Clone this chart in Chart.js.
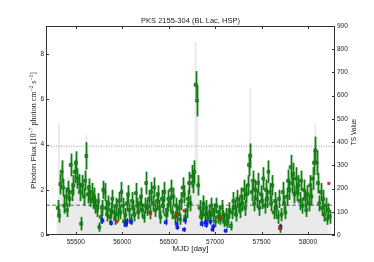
<!DOCTYPE html>
<html>
<head>
<meta charset="utf-8">
<script src="https://cdn.jsdelivr.net/npm/chart.js@4.4.1/dist/chart.umd.min.js"></script>
<style>
  html, body { margin: 0; padding: 0; background: #fff; }
  #wrap { width: 374px; height: 262px; }
</style>
</head>
<body>
<div id="wrap"><canvas id="lc" width="374" height="262"></canvas></div>
<script>
// 14-day bins of the LAT light curve
const binStart = 55306;
const binWidth = 14;

const flux = [
  1.2, 0.85, 2.25, 2.8, 2.1, 1.3, 1.7,
  1.1, 2.0, 1.6, 3.1, 1.9, 2.2, 2.8,
  3.2, 2.5, 2.3, 1.9, 0.5, 2.2, 1.7,
  2.4, 3.5, 1.8, 2.1, 1.6, 1.9, 1.5,
  1.7, 1.3, 1.1, 1.5, 0.35, 0.8, 1.2,
  2.0, 1.9, 1.2, 0.9, 1.4, 0.8, 1.1,
  1.6, 1.0, 0.7, 1.3, 0.9, 1.5, 1.0,
  1.9, 1.3, 0.6, 0.9, 1.4, 1.8, 1.1,
  0.7, 1.5, 1.2, 0.9, 1.85, 1.3, 1.0,
  1.4, 1.7, 1.1, 0.8, 1.3, 2.3, 1.2,
  1.6, 1.0, 1.9, 1.4, 2.1, 1.1, 1.5,
  1.8, 1.2, 0.8, 1.6, 1.3, 1.9, 0.9,
  1.1, 1.6, 1.4, 2.0, 1.0, 1.7, 0.8,
  1.3, 0.9, 1.2, 0.7, 1.5, 2.1, 1.8,
  0.8, 1.1, 1.6, 2.3, 1.4, 2.6, 2.3,
  2.8, 6.65, 5.95, 2.2, 1.2, 0.8, 1.0,
  1.4, 0.9, 1.2, 0.7, 1.0, 0.8, 1.3,
  0.9, 1.1, 0.6, 1.3, 0.8, 1.0, 0.7,
  1.2, 0.8, 0.6, 0.9, 0.5, 0.8, 1.1,
  0.4, 1.0, 1.5, 1.2, 0.9, 1.6, 1.3,
  1.1, 1.7, 1.4, 2.0, 1.2, 1.8, 2.2,
  3.1, 3.5, 1.9, 2.4, 1.4, 2.0, 1.6,
  2.3, 1.2, 1.8, 1.5, 2.5, 1.3, 2.0,
  1.6, 2.8, 1.9, 1.4, 2.2, 1.0, 1.5,
  1.2, 0.8, 1.6, 0.3, 0.9, 1.9, 1.4,
  1.0, 1.7, 2.4, 2.0, 3.0, 2.3, 2.7,
  1.8, 2.5, 1.9, 2.2, 1.5, 2.4, 1.3,
  2.0, 1.6, 1.1, 1.8, 1.4, 2.2, 1.7,
  2.5, 3.2, 3.75, 3.2, 2.3, 1.4, 1.9,
  1.2, 1.6, 0.9, 1.3, 0.7, 1.1, 0.8
];

const fluxErr = [
  .35, .3, .45, .5, .4, .35, .4,
  .3, .4, .35, .5, .4, .45, .5,
  .5, .45, .4, .4, .3, .45, .4,
  .45, .6, .4, .4, .35, .4, .35,
  .4, .35, .3, .35, .2, .3, .35,
  .4, .4, .35, .3, .35, .3, .35,
  .4, .3, .25, .35, .3, .4, .3,
  .45, .35, .25, .3, .35, .4, .3,
  .25, .4, .35, .3, .45, .35, .3,
  .35, .4, .3, .25, .35, .5, .35,
  .4, .3, .45, .35, .45, .3, .4,
  .4, .35, .3, .4, .35, .45, .3,
  .3, .4, .35, .45, .3, .4, .25,
  .35, .3, .35, .25, .4, .45, .4,
  .3, .35, .4, .5, .35, .5, .45,
  .5, .6, .7, .45, .35, .3, .3,
  .35, .3, .35, .25, .3, .25, .35,
  .3, .3, .25, .35, .3, .3, .25,
  .35, .3, .25, .3, .2, .3, .35,
  .2, .3, .4, .35, .3, .4, .35,
  .35, .4, .35, .45, .35, .4, .45,
  .5, .55, .4, .45, .35, .45, .4,
  .45, .35, .4, .35, .5, .35, .45,
  .4, .5, .4, .35, .45, .3, .4,
  .35, .3, .4, .2, .3, .45, .35,
  .3, .4, .5, .45, .55, .45, .5,
  .4, .5, .4, .45, .4, .45, .35,
  .45, .4, .3, .4, .35, .45, .4,
  .5, .55, .6, .55, .45, .35, .4,
  .35, .4, .3, .35, .25, .3, .3
];

const tsValue = [
  150, 480, 260, 300, 220, 170, 210,
  160, 250, 210, 330, 240, 260, 310,
  350, 290, 270, 220, 120, 260, 230,
  260, 430, 220, 240, 200, 230, 180,
  190, 160, 140, 170, 60, 110, 140,
  200, 190, 140, 110, 150, 100, 120,
  160, 120, 90, 140, 110, 150, 110,
  180, 130, 80, 110, 150, 170, 120,
  90, 150, 130, 110, 170, 130, 110,
  140, 160, 120, 100, 130, 210, 130,
  150, 110, 170, 140, 190, 120, 150,
  170, 130, 100, 150, 130, 170, 100,
  120, 150, 140, 180, 110, 160, 100,
  130, 100, 120, 90, 150, 190, 170,
  100, 120, 150, 210, 140, 230, 220,
  260, 830, 620, 200, 120, 90, 110,
  130, 100, 120, 80, 110, 90, 120,
  100, 110, 70, 120, 90, 100, 80,
  110, 90, 70, 90, 60, 90, 110,
  60, 100, 140, 120, 100, 150, 130,
  110, 160, 140, 180, 120, 170, 200,
  300, 630, 190, 220, 140, 190, 160,
  210, 120, 170, 150, 230, 130, 190,
  160, 250, 180, 140, 200, 110, 150,
  120, 90, 150, 40, 100, 180, 140,
  110, 160, 220, 190, 270, 210, 240,
  170, 230, 180, 200, 150, 220, 130,
  190, 160, 120, 170, 140, 200, 160,
  230, 290, 480, 300, 210, 140, 180,
  120, 150, 100, 130, 80, 0, 90
];

// low-significance bins (blue) and bins flagged red
const blueMjd  = [55787, 55880, 56040, 56048, 56095, 56468, 56586, 56594, 56666, 56674, 56855, 56896, 56904, 56950, 56972, 56980, 57113, 57704];
const blueFlux = [0.64, 0.53, 0.46, 0.6, 0.58, 0.56, 0.5, 0.34, 0.24, 0.65, 0.49, 0.56, 0.44, 0.59, 0.24, 0.38, 0.19, 0.36];
const blueErr  = [0.15, 0.12, 0.12, 0.15, 0.13, 0.13, 0.14, 0.12, 0.1, 0.18, 0.13, 0.14, 0.12, 0.14, 0.1, 0.12, 0.08, 0.1];

const redMjd  = [55941, 56306, 56579, 56668, 57063, 57697, 58224];
const redFlux = [0.58, 0.96, 0.9, 1.07, 0.73, 0.31, 2.28];

const tsThresholdFlux = 3.93;   // dotted
const meanFlux = 1.32;          // dashed

const mjdRange = [55180, 58290];
const xTicks  = [55500, 56000, 56500, 57000, 57500, 58000];
const yTicks  = [0, 2, 4, 6, 8];
const y2Ticks = [0, 100, 200, 300, 400, 500, 600, 700, 800, 900];

const mjd = flux.map((_, i) => binStart + i * binWidth);

const SANS = '"Liberation Sans", Arial, Helvetica, sans-serif';
const SERIF = '"Liberation Serif", "DejaVu Serif", serif';
Chart.defaults.font.family = SANS;
Chart.defaults.color = '#222';

const errorBars = {
  id: 'errorBars',
  beforeDatasetDraw(chart, args) {
    const ds = chart.data.datasets[args.index];
    if (!ds.errs) return;
    const { ctx, chartArea: a } = chart;
    const xs = chart.scales.x, ys = chart.scales.y;
    ctx.save();
    ctx.beginPath();
    ctx.rect(a.left, a.top, a.right - a.left, a.bottom - a.top);
    ctx.clip();
    ds.data.forEach((p, i) => {
      const px = Math.round(xs.getPixelForValue(p.x)) + 0.5;
      const lo = ys.getPixelForValue(p.y - ds.errs[i]);
      const hi = ys.getPixelForValue(p.y + ds.errs[i]);
      if (ds.bandColor) {
        ctx.strokeStyle = ds.bandColor;
        ctx.lineWidth = 3;
        ctx.beginPath(); ctx.moveTo(px, lo); ctx.lineTo(px, hi); ctx.stroke();
      }
      ctx.strokeStyle = ds.errColor;
      ctx.lineWidth = 1;
      ctx.beginPath(); ctx.moveTo(px, lo); ctx.lineTo(px, hi); ctx.stroke();
    });
    ctx.restore();
  }
};

function drawRich(ctx, parts, cx, cy) {
  // parts: [text, font, dy]
  let total = 0;
  parts.forEach(p => { ctx.font = p[1]; total += ctx.measureText(p[0]).width; });
  let x = cx - total / 2;
  parts.forEach(p => {
    ctx.font = p[1];
    ctx.fillText(p[0], x, cy + p[2]);
    x += ctx.measureText(p[0]).width;
  });
}

const frame = {
  id: 'frame',
  afterDraw(chart) {
    const { ctx, chartArea: a } = chart;
    const xs = chart.scales.x, ys = chart.scales.y, y2 = chart.scales.y2;
    ctx.save();
    ctx.strokeStyle = '#333';
    ctx.lineWidth = 1;
    ctx.strokeRect(Math.round(a.left) + 0.5, Math.round(a.top) + 0.5,
                   Math.round(a.right - a.left) - 1, Math.round(a.bottom - a.top) - 1);
    const tl = 3;
    ctx.beginPath();
    xTicks.forEach(v => {
      const px = Math.round(xs.getPixelForValue(v)) + 0.5;
      ctx.moveTo(px, a.bottom); ctx.lineTo(px, a.bottom - tl);
      ctx.moveTo(px, a.top); ctx.lineTo(px, a.top + tl);
    });
    yTicks.forEach(v => {
      const py = Math.round(ys.getPixelForValue(v)) + 0.5;
      ctx.moveTo(a.left, py); ctx.lineTo(a.left + tl, py);
    });
    y2Ticks.forEach(v => {
      const py = Math.round(y2.getPixelForValue(v)) + 0.5;
      ctx.moveTo(a.right, py); ctx.lineTo(a.right - tl, py);
    });
    ctx.stroke();

    ctx.fillStyle = '#222';
    ctx.textBaseline = 'middle';
    ctx.textAlign = 'left';
    // title
    drawRich(ctx, [['PKS 2155-304 (BL Lac, HSP)', '7.5px ' + SANS, 0]], (a.left + a.right) / 2, 21);
    // x label
    drawRich(ctx, [['MJD [day]', '8px ' + SANS, 0]], (a.left + a.right) / 2, 249);
    // left label
    ctx.save();
    ctx.translate(34, (a.top + a.bottom) / 2);
    ctx.rotate(-Math.PI / 2);
    const sf = '8px ' + SERIF, sup = '5.5px ' + SERIF;
    drawRich(ctx, [
      ['Photon Flux ', '8px ' + SANS, 0],
      ['[10', sf, 0], ['\u22127', sup, -2.8],
      [' photon cm', sf, 0], ['\u22122', sup, -2.8],
      [' s', sf, 0], ['\u22121', sup, -2.8],
      [']', sf, 0]
    ], 0, 0);
    ctx.restore();
    // right label
    ctx.save();
    ctx.translate(354, 132);
    ctx.rotate(-Math.PI / 2);
    drawRich(ctx, [['TS Value', '6.5px ' + SANS, 0]], 0, 0);
    ctx.restore();
    ctx.restore();
  }
};

const tickFont = { size: 6.5, family: SANS };

new Chart(document.getElementById('lc'), {
  type: 'scatter',
  data: {
    datasets: [
      {
        type: 'bar',
        label: 'TS',
        data: mjd.map((m, i) => ({ x: m, y: tsValue[i] })),
        yAxisID: 'y2',
        backgroundColor: '#eaeaea',
        borderWidth: 0,
        barPercentage: 1,
        categoryPercentage: 1,
        order: 6
      },
      {
        type: 'line',
        label: 'threshold',
        data: mjdRange.map(m => ({ x: m, y: tsThresholdFlux })),
        borderColor: '#999',
        borderWidth: 1,
        borderDash: [1, 1.5],
        pointRadius: 0,
        order: 5
      },
      {
        type: 'line',
        label: 'mean',
        data: mjdRange.map(m => ({ x: m, y: meanFlux })),
        borderColor: '#666',
        borderWidth: 1,
        borderDash: [4, 2],
        pointRadius: 0,
        order: 5
      },
      {
        label: 'flux',
        data: mjd.map((m, i) => ({ x: m, y: flux[i] })),
        errs: fluxErr,
        errColor: '#127d12',
        bandColor: 'rgba(40,140,40,0.45)',
        pointStyle: 'rect',
        pointRadius: 2.1,
        backgroundColor: '#1f8a1f',
        borderColor: '#0a6a0a',
        borderWidth: 0.6,
        order: 3
      },
      {
        label: 'low TS',
        data: blueMjd.map((m, i) => ({ x: m, y: blueFlux[i] })),
        errs: blueErr,
        errColor: '#1030ff',
        pointStyle: 'rect',
        pointRadius: 2.1,
        backgroundColor: '#1a2cff',
        borderColor: '#0000cc',
        borderWidth: 0.6,
        order: 2
      },
      {
        label: 'flagged',
        data: redMjd.map((m, i) => ({ x: m, y: redFlux[i] })),
        pointStyle: 'rect',
        pointRadius: 1.7,
        backgroundColor: '#ff2020',
        borderColor: '#dd0000',
        borderWidth: 0.5,
        order: 1
      }
    ]
  },
  options: {
    responsive: false,
    animation: false,
    devicePixelRatio: 1,
    layout: { padding: { top: 26, left: 0, right: 0, bottom: 0 } },
    plugins: { legend: { display: false }, tooltip: { enabled: false } },
    scales: {
      x: {
        type: 'linear',
        min: mjdRange[0], max: mjdRange[1],
        offset: false,
        grid: { display: false, drawTicks: false, offset: false },
        border: { display: false },
        afterBuildTicks: s => { s.ticks = xTicks.map(v => ({ value: v })); },
        afterFit: s => { s.height = 27; },
        ticks: { font: tickFont, padding: 3, maxRotation: 0, autoSkip: false, callback: v => String(v) }
      },
      y: {
        position: 'left',
        min: 0, max: 9.25,
        grid: { display: false, drawTicks: false },
        border: { display: false },
        afterBuildTicks: s => { s.ticks = yTicks.map(v => ({ value: v })); },
        afterFit: s => { s.width = 46; },
        ticks: { font: tickFont, padding: 2, callback: v => String(v) }
      },
      y2: {
        position: 'right',
        min: 0, max: 900,
        grid: { display: false, drawTicks: false },
        border: { display: false },
        afterBuildTicks: s => { s.ticks = y2Ticks.map(v => ({ value: v })); },
        afterFit: s => { s.width = 39; },
        ticks: { font: tickFont, padding: 2, callback: v => String(v) }
      }
    }
  },
  plugins: [errorBars, frame]
});
</script>
</body>
</html>
